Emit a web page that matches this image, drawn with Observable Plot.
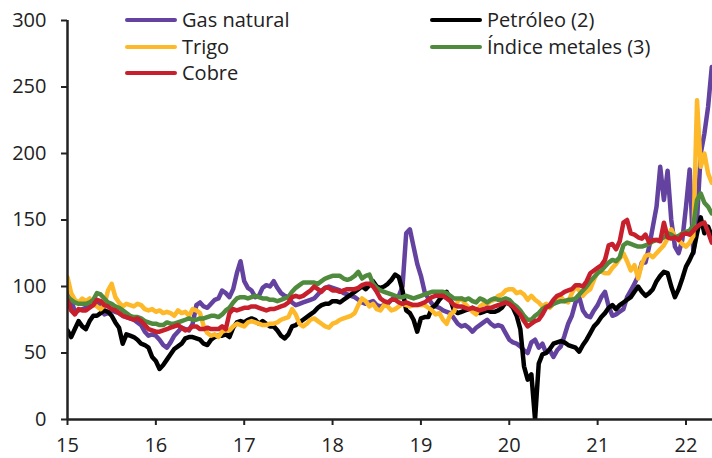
<!DOCTYPE html>
<html><head><meta charset="utf-8">
<script src="https://cdn.jsdelivr.net/npm/d3@7"></script>
<script src="https://cdn.jsdelivr.net/npm/@observablehq/plot@0.6"></script>
<style>
body{margin:0;background:#fff;font-family:"Open Sans",sans-serif;}
#chart{position:relative;width:712px;height:458px;}
.leg{position:absolute;height:24px;display:flex;align-items:center;font-size:20px;color:#222;line-height:1;white-space:nowrap;}
.leg .sw{width:52px;height:4px;border-radius:2px;margin-right:5px;}
</style></head><body><div id="chart"></div>
<script>
const seriesNames = ["Gas natural","Petróleo (2)","Trigo","Índice metales (3)","Cobre"];
const seriesColors = ["#6342a0","#000000","#fdb92a","#4f8a3d","#c7202c"];
const xTicks = [15,16,17,18,19,20,21,22];
const yTicks = [0,50,100,150,200,250,300];
const startYear = 15, pointsPerYear = 24; // semi-monthly readings

const gas = [97,90,81,82,83,84,87,88,89,85,
79,80,82,81,80,78,77,76,75,73,
71,66,63,64,63,60,56,54,58,63,
66,69,68,67,72,86,88,85,84,87,
90,91,97,95,92,98,110,119,104,99,
97,92,93,99,101,100,104,99,95,93,
92,88,86,87,88,89,90,91,94,97,
99,100,99,98,97,95,94,93,92,90,
88,87,88,89,86,85,86,87,90,92,
93,100,140,143,130,117,108,96,91,87,
85,84,82,81,80,76,72,70,71,69,
66,69,71,73,75,72,70,71,70,65,
60,58,57,55,52,50,58,60,54,57,
50,52,47,52,55,63,72,78,88,92,
82,78,77,82,86,92,96,85,78,79,
81,83,92,97,102,108,118,118,130,145,
160,190,165,187,150,130,125,135,160,188,
125,150,200,215,235,265];

const oil = [67,62,68,74,70,68,74,78,78,80,
82,81,78,73,69,57,64,63,62,60,
57,56,54,47,44,38,41,45,49,53,
55,57,61,62,62,61,60,57,56,60,
62,63,63,64,62,69,73,74,73,75,
76,75,72,74,72,70,70,67,63,61,
64,70,71,73,75,77,79,81,84,86,
87,87,89,89,88,90,92,94,96,98,
100,98,101,104,100,99,100,102,105,109,
107,97,82,80,75,66,76,77,77,84,
86,90,93,96,90,82,80,81,82,83,
84,81,80,81,82,81,81,82,84,88,
87,84,78,68,40,30,34,0,42,49,
50,53,57,58,59,58,56,55,54,51,
56,60,65,70,73,77,80,84,86,83,
86,88,90,92,96,100,96,93,95,98,
104,108,111,110,100,92,98,106,115,120,
126,140,152,140,145,138];

const wheat = [107,95,90,88,91,89,91,87,85,83,
86,97,102,92,88,85,87,86,85,87,
86,83,82,83,81,82,80,81,80,78,
82,80,81,78,83,82,80,70,65,63,
64,62,66,67,67,70,72,71,70,73,
74,73,72,71,71,72,72,73,75,76,
77,83,79,72,70,72,75,76,74,72,
70,69,72,73,75,76,77,78,80,86,
91,89,85,87,83,82,86,85,82,83,
85,87,86,85,86,86,86,86,84,82,
79,80,75,72,79,81,89,91,87,84,
81,79,85,87,87,89,90,93,94,97,
98,98,95,96,94,90,93,90,88,85,
87,84,87,90,92,89,88,95,100,97,
93,96,98,105,111,111,110,110,114,117,
121,125,119,112,116,106,117,123,124,122,
125,128,131,136,143,137,135,132,130,133,
138,240,190,200,185,178];

const metals = [92,90,88,87,87,87,88,90,95,94,
91,88,87,85,84,82,80,78,77,77,
76,74,73,72,72,71,71,73,72,72,
73,74,75,76,75,75,76,76,77,78,
78,77,79,82,84,88,91,92,92,91,
92,93,92,91,91,90,90,89,90,91,
92,96,99,101,103,103,103,103,102,104,
106,107,108,108,108,106,105,106,108,111,
106,108,109,102,99,97,96,95,94,93,
92,92,93,92,91,92,93,94,95,96,
96,96,96,95,93,91,91,91,90,91,
89,88,91,90,88,90,91,90,90,91,
90,87,85,82,78,75,75,78,80,83,
85,85,87,88,89,89,90,90,91,94,
97,100,104,107,110,112,115,118,120,119,
122,131,133,132,131,130,130,131,132,134,
135,135,137,140,139,137,138,140,141,142,
146,165,170,163,160,155];

const copper = [90,82,79,83,82,82,84,86,90,89,
86,85,83,82,80,78,77,76,75,76,
74,71,68,67,66,66,67,68,69,70,
71,69,67,68,70,70,68,68,69,68,
68,68,70,68,80,83,82,83,84,84,
85,85,84,83,82,83,83,84,85,86,
88,92,93,92,93,95,97,100,98,96,
99,99,97,97,96,97,98,98,98,99,
101,102,102,100,96,91,89,88,90,90,
88,87,88,87,86,86,87,88,90,92,
93,93,93,91,89,86,85,85,84,83,
84,83,82,83,84,84,85,86,87,88,
87,85,82,79,74,70,72,74,75,79,
84,86,90,93,94,96,97,98,101,101,
100,104,110,112,114,116,120,131,132,128,
134,148,150,140,139,137,136,139,133,135,
135,134,148,137,136,137,135,139,140,139,
142,145,147,148,141,133];

const allSeries = [gas, oil, wheat, metals, copper];
const data = [];
allSeries.forEach((arr, si) => arr.forEach((v, k) => data.push({t: startYear + k / pointsPerYear, v, s: seriesNames[si]})));

const plot = Plot.plot({
  width: 712, height: 458,
  marginLeft: 67, marginRight: 0, marginTop: 20, marginBottom: 39,
  style: {fontFamily: "'Open Sans', sans-serif", fontSize: "20px", color: "#222", background: "white"},
  x: {domain: [15, 22.3]},
  y: {domain: [0, 300]},
  color: {domain: seriesNames, range: seriesColors},
  marks: [
    Plot.lineY(data, {x: "t", y: "v", z: "s", stroke: "s", strokeWidth: 4.5, strokeLinejoin: "round", clip: true}),
    Plot.axisX({ticks: xTicks, tickSize: 6, tickPadding: 12, strokeWidth: 2, fontSize: 20, label: null, tickFormat: d => String(d)}),
    Plot.axisY({ticks: yTicks, tickSize: 6, tickPadding: 15, strokeWidth: 2, fontSize: 20, label: null}),
    Plot.ruleY([0], {strokeWidth: 2.5}),
    Plot.ruleX([15], {strokeWidth: 2.5})
  ]
});
const chart = document.getElementById("chart");
chart.appendChild(plot);

const legendPos = [[125, 20], [430, 20], [125, 47], [430, 47], [125, 73]];
seriesNames.forEach((name, i) => {
  const d = document.createElement("div");
  d.className = "leg";
  d.style.left = legendPos[i][0] + "px";
  d.style.top = (legendPos[i][1] - 12) + "px";
  const sw = document.createElement("span");
  sw.className = "sw";
  sw.style.background = seriesColors[i];
  const tx = document.createElement("span");
  tx.textContent = name;
  d.appendChild(sw); d.appendChild(tx);
  chart.appendChild(d);
});
</script></body></html>
